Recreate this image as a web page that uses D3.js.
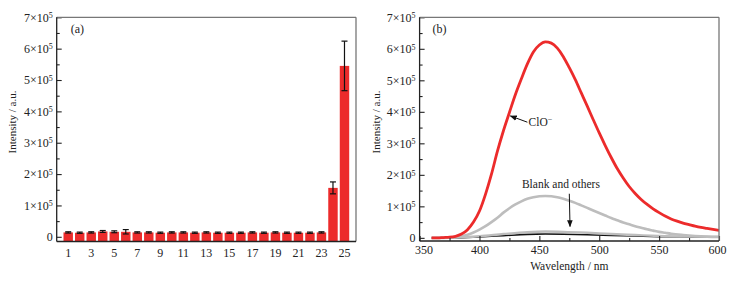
<!DOCTYPE html>
<html>
<head>
<meta charset="utf-8">
<script src="https://cdn.jsdelivr.net/npm/d3@7"></script>
<style>
  body { margin: 0; background: #fff; }
  svg text { font-family: "Liberation Serif", "Times New Roman", serif; fill: #222; }
</style>
</head>
<body>
<div id="chart"></div>
<script>
// ---- data (a): intensity per sample, x10^4
let samples = d3.range(1, 26);
let barValues = [1.4, 1.3, 1.4, 1.7, 1.6, 1.6, 1.4, 1.4, 1.3, 1.4, 1.4, 1.3, 1.4,
                 1.3, 1.3, 1.3, 1.4, 1.3, 1.4, 1.3, 1.3, 1.3, 1.4, 15.6, 54.5];
let barErrors = [0.2, 0.2, 0.2, 0.3, 0.3, 0.7, 0.2, 0.2, 0.2, 0.2, 0.2, 0.2, 0.2,
                 0.2, 0.2, 0.2, 0.2, 0.2, 0.2, 0.2, 0.2, 0.2, 0.2, 1.9, 7.9];
let barTickLabels = [1, 3, 5, 7, 9, 11, 13, 15, 17, 19, 21, 23, 25];

// ---- data (b): emission spectra, x10^5
let wlRed = [360, 365, 370, 375, 380, 385, 390, 395, 400, 405, 410, 415, 420, 425, 430, 435, 440,
             445, 450, 455, 460, 465, 470, 475, 480, 485, 490, 495, 500, 505, 510, 515, 520, 525,
             530, 535, 540, 545, 550, 555, 560, 565, 570, 575, 580, 585, 590, 595, 600];
let clo = [0.00, 0.00, 0.01, 0.02, 0.05, 0.12, 0.26, 0.50, 0.85, 1.38, 2.02, 2.75, 3.40, 3.98, 4.55,
           5.05, 5.52, 5.90, 6.12, 6.22, 6.18, 6.02, 5.75, 5.40, 5.02, 4.60, 4.18, 3.75, 3.33, 2.93,
           2.55, 2.20, 1.90, 1.63, 1.41, 1.22, 1.06, 0.92, 0.80, 0.69, 0.60, 0.53, 0.47, 0.42, 0.37,
           0.33, 0.30, 0.27, 0.24];
let wlGray = [360, 370, 380, 385, 390, 395, 400, 405, 410, 415, 420, 425, 430, 435, 440, 445, 450,
              455, 460, 465, 470, 475, 480, 485, 490, 495, 500, 505, 510, 515, 520, 525, 530, 535,
              540, 545, 550, 555, 560, 570, 580, 590, 600];
let grayHigh = [0.00, 0.00, 0.02, 0.05, 0.10, 0.17, 0.26, 0.37, 0.50, 0.64, 0.80, 0.94, 1.06, 1.16,
                1.24, 1.29, 1.32, 1.33, 1.32, 1.29, 1.24, 1.18, 1.11, 1.03, 0.95, 0.87, 0.79, 0.71,
                0.63, 0.56, 0.49, 0.43, 0.37, 0.32, 0.27, 0.23, 0.19, 0.16, 0.13, 0.09, 0.06, 0.04, 0.03];
let wlLow = [360, 380, 400, 420, 440, 455, 470, 490, 510, 530, 550, 575, 600];
let grayLow = [0.00, 0.01, 0.05, 0.12, 0.18, 0.20, 0.19, 0.16, 0.12, 0.09, 0.06, 0.04, 0.03];
let blank = [0.00, 0.00, 0.03, 0.07, 0.11, 0.12, 0.115, 0.10, 0.08, 0.06, 0.04, 0.025, 0.02];
let wlTicks = [350, 400, 450, 500, 550, 600];
let yTicks = [0, 1, 2, 3, 4, 5, 6, 7];

let width = 739, height = 283;
let red = '#ec2b2b';

let svg = d3.select('#chart').append('svg')
    .attr('width', width)
    .attr('height', height);

svg.append('defs').append('marker')
    .attr('id', 'arrow')
    .attr('viewBox', '0 0 10 10')
    .attr('refX', 9).attr('refY', 5)
    .attr('markerWidth', 7).attr('markerHeight', 7)
    .attr('markerUnits', 'userSpaceOnUse')
    .attr('orient', 'auto')
    .append('path')
    .attr('d', 'M0,1 L10,5 L0,9 Z')
    .attr('fill', '#111');

function supLabel(sel, base, sup) {
    sel.text(null);
    sel.append('tspan').text(base);
    sel.append('tspan').attr('dy', '-0.45em').attr('font-size', '8px').text(sup);
}

function drawFrame(g, w, h) {
    g.append('line').attr('x1', 0).attr('x2', w).attr('y1', 0).attr('y2', 0)
        .attr('stroke', '#777').attr('stroke-width', 1.3);
    g.append('line').attr('x1', w).attr('x2', w).attr('y1', 0).attr('y2', h)
        .attr('stroke', '#777').attr('stroke-width', 1.3);
    g.append('line').attr('x1', 0).attr('x2', w).attr('y1', h).attr('y2', h)
        .attr('stroke', '#222').attr('stroke-width', 1.3);
    g.append('line').attr('x1', 0).attr('x2', 0).attr('y1', 0).attr('y2', h)
        .attr('stroke', '#222').attr('stroke-width', 1.3);
}

function drawYAxis(g, yScale) {
    let minor = g.append('g')
        .call(d3.axisLeft(yScale).tickValues(d3.range(0.5, 7, 1).map(d => d * 1e5))
            .tickSizeInner(-3).tickSizeOuter(0).tickFormat(''));
    let major = g.append('g')
        .call(d3.axisLeft(yScale).tickValues(yTicks.map(d => d * 1e5))
            .tickSizeInner(-5).tickSizeOuter(0).tickPadding(4));
    [minor, major].forEach(a => {
        a.select('.domain').remove();
        a.selectAll('line').attr('stroke', '#222').attr('stroke-width', 1.1);
    });
    major.selectAll('text')
        .attr('font-size', '12px')
        .each(function(d) {
            let t = d3.select(this);
            if (d === 0) t.text('0');
            else supLabel(t, (d / 1e5) + '×10', '5');
        });
}

// ---------- panel (a)
let aM = {left: 56.7, top: 17.3, right: 356, bottom: 241.5};
let aW = aM.right - aM.left, aH = aM.bottom - aM.top;
let gA = svg.append('g').attr('transform', `translate(${aM.left}, ${aM.top})`);

let aX = d3.scaleLinear().domain([0, 26]).range([0, aW]);
let aY = d3.scaleLinear().domain([-0.15e5, 7e5]).range([aH, 0]);
let barW = aX(0.82) - aX(0);

let bars = samples.map((s, i) => ({s: s, v: barValues[i] * 1e4, e: barErrors[i] * 1e4}));

gA.selectAll('rect.bar')
    .data(bars)
    .join('rect')
    .attr('class', 'bar')
    .attr('x', d => aX(d.s) - barW / 2)
    .attr('y', d => aY(d.v))
    .attr('width', barW)
    .attr('height', d => aH - aY(d.v))
    .attr('fill', red);

let errG = gA.append('g').attr('stroke', '#111').attr('stroke-width', 1.2);
bars.forEach(d => {
    errG.append('line').attr('x1', aX(d.s)).attr('x2', aX(d.s))
        .attr('y1', aY(d.v + d.e)).attr('y2', aY(d.v - d.e));
    [d.v + d.e, d.v - d.e].forEach(v => {
        errG.append('line').attr('x1', aX(d.s) - 3).attr('x2', aX(d.s) + 3)
            .attr('y1', aY(v)).attr('y2', aY(v));
    });
});

drawYAxis(gA, aY);
drawFrame(gA, aW, aH);

gA.append('g')
    .selectAll('text')
    .data(barTickLabels)
    .join('text')
    .attr('x', d => aX(d))
    .attr('y', aH + 15.5)
    .attr('text-anchor', 'middle')
    .attr('font-size', '12px')
    .text(d => d);

gA.append('text').attr('x', 14).attr('y', 16).attr('font-size', '12px').text('(a)');

svg.append('text')
    .attr('transform', `translate(16, 122) rotate(-90)`)
    .attr('text-anchor', 'middle')
    .attr('font-size', '11px')
    .text('Intensity / a.u.');

// ---------- panel (b)
let bM = {left: 419.6, top: 17.3, right: 719, bottom: 241};
let bW = bM.right - bM.left, bH = bM.bottom - bM.top;
let gB = svg.append('g').attr('transform', `translate(${bM.left}, ${bM.top})`);

let bX = d3.scaleLinear().domain([350, 600]).range([0, bW]);
let bY = d3.scaleLinear().domain([-0.1e5, 7e5]).range([bH, 0]);

let line = d3.line()
    .x(d => bX(d[0]))
    .y(d => bY(d[1] * 1e5))
    .curve(d3.curveMonotoneX);

let series = [
    {xs: wlLow, ys: blank, color: '#111', w: 1.6},
    {xs: wlLow, ys: grayLow, color: '#bdbdbd', w: 2.4},
    {xs: wlGray, ys: grayHigh, color: '#bdbdbd', w: 2.6},
    {xs: wlRed, ys: clo, color: red, w: 2.8}
];

gB.selectAll('path.curve')
    .data(series)
    .join('path')
    .attr('class', 'curve')
    .attr('d', d => line(d.xs.map((x, i) => [x, d.ys[i]])))
    .attr('fill', 'none')
    .attr('stroke', d => d.color)
    .attr('stroke-width', d => d.w)
    .attr('stroke-linejoin', 'round');

drawYAxis(gB, bY);

let xMinor = gB.append('g').attr('transform', `translate(0, ${bH})`)
    .call(d3.axisBottom(bX).tickValues([375, 425, 475, 525, 575])
        .tickSizeInner(-3).tickSizeOuter(0).tickFormat(''));
let xMajor = gB.append('g').attr('transform', `translate(0, ${bH})`)
    .call(d3.axisBottom(bX).tickValues(wlTicks)
        .tickSizeInner(-5).tickSizeOuter(0).tickPadding(4));
[xMinor, xMajor].forEach(a => {
    a.select('.domain').remove();
    a.selectAll('line').attr('stroke', '#222').attr('stroke-width', 1.1);
});
xMajor.selectAll('text').attr('font-size', '12px')
    .attr('dx', d => d === 350 ? 4 : (d === 600 ? -2 : 0));

drawFrame(gB, bW, bH);

gB.append('text').attr('x', 13).attr('y', 16).attr('font-size', '12px').text('(b)');

// annotations
gB.append('line')
    .attr('x1', bX(440)).attr('y1', bY(3.67e5))
    .attr('x2', bX(425.8)).attr('y2', bY(3.87e5))
    .attr('stroke', '#111').attr('stroke-width', 1)
    .attr('marker-end', 'url(#arrow)');
let cloText = gB.append('text')
    .attr('x', bX(441)).attr('y', bY(3.55e5))
    .attr('font-size', '11.5px');
supLabel(cloText, 'ClO', '−');

gB.append('text')
    .attr('x', bX(468)).attr('y', bY(1.58e5))
    .attr('text-anchor', 'middle')
    .attr('font-size', '11.5px')
    .text('Blank and others');
gB.append('line')
    .attr('x1', bX(475)).attr('y1', bY(1.4e5))
    .attr('x2', bX(475.6)).attr('y2', bY(0.36e5))
    .attr('stroke', '#111').attr('stroke-width', 1)
    .attr('marker-end', 'url(#arrow)');

svg.append('text')
    .attr('x', bM.left + bW / 2).attr('y', 270)
    .attr('text-anchor', 'middle')
    .attr('font-size', '11.5px')
    .text('Wavelength / nm');

svg.append('text')
    .attr('transform', `translate(380, 122) rotate(-90)`)
    .attr('text-anchor', 'middle')
    .attr('font-size', '11px')
    .text('Intensity / a.u.');
</script>
</body>
</html>
